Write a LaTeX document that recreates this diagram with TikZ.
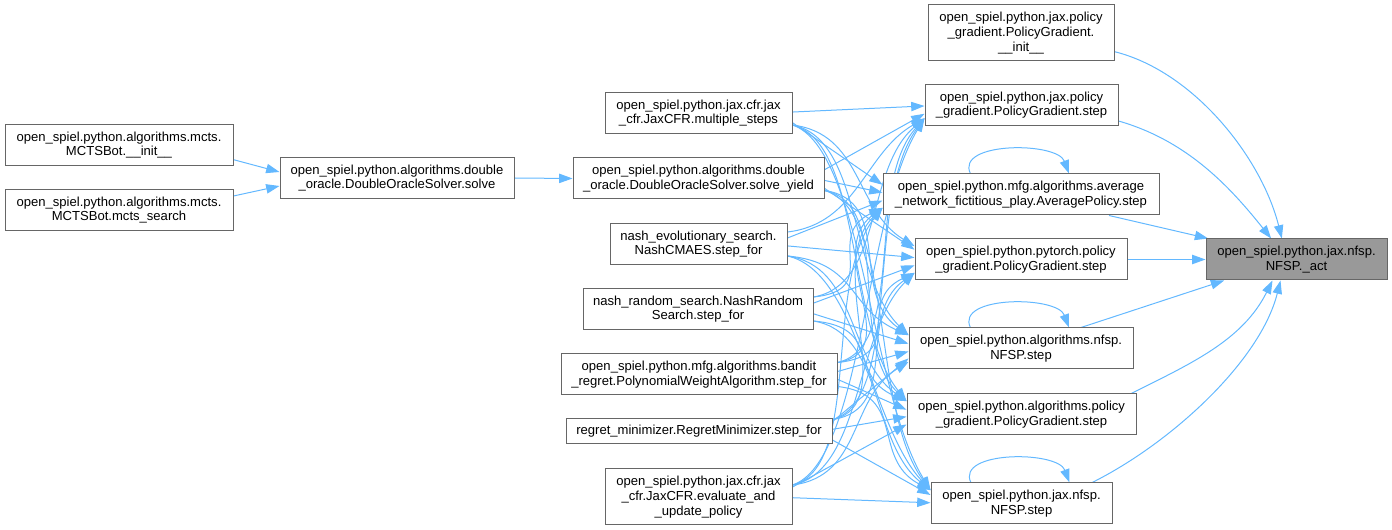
\documentclass[tikz,border=0pt]{standalone}
\usepackage{fontspec}
\setmainfont{Liberation Sans}
\usetikzlibrary{arrows.meta}
\definecolor{edgeblue}{HTML}{63B8FF}
\definecolor{boxgray}{HTML}{666666}
\definecolor{actgray}{HTML}{999999}
\pgfdeclarelayer{bg}
\pgfsetlayers{bg,main}

\begin{document}
\begin{tikzpicture}[x=0.75pt,y=-0.75pt,>={Triangle[length=10pt,width=7pt]},
    fn/.style={draw=boxgray,fill=white,line width=0.75pt,rectangle,align=center,inner sep=1pt,
      font=\fontsize{9.8}{11}\selectfont},
    one/.style={minimum height=18.75pt},
    two/.style={minimum height=30.75pt},
    three/.style={minimum height=42pt},
    call/.style={draw=edgeblue,line width=0.75pt,->}]
  \useasboundingbox (0,0) rectangle (1392,530);
  % callers of the solver
  \node [fn,two,minimum width=171pt] (mctsinit) at (119,145) {open\_spiel.python.algorithms.mcts.\\MCTSBot.\_\_init\_\_};
  \node [fn,two,minimum width=171pt] (mctssearch) at (119,210) {open\_spiel.python.algorithms.mcts.\\MCTSBot.mcts\_search};
  \node [fn,two,minimum width=175.5pt] (solve) at (397,178) {open\_spiel.python.algorithms.double\\\_oracle.DoubleOracleSolver.solve};
  % step_for and friends
  \node [fn,two,minimum width=140.25pt] (multisteps) at (698.5,113) {open\_spiel.python.jax.cfr.jax\\\_cfr.JaxCFR.multiple\_steps};
  \node [fn,two,minimum width=188.25pt] (solveyield) at (698.5,178.5) {open\_spiel.python.algorithms.double\\\_oracle.DoubleOracleSolver.solve\_yield};
  \node [fn,two,minimum width=132.75pt] (cmaes) at (698.5,244) {nash\_evolutionary\_search.\\NashCMAES.step\_for};
  \node [fn,two,minimum width=172.5pt] (randsearch) at (698,309) {nash\_random\_search.NashRandom\\Search.step\_for};
  \node [fn,two,minimum width=207pt] (polyweight) at (699,374.5) {open\_spiel.python.mfg.algorithms.bandit\\\_regret.PolynomialWeightAlgorithm.step\_for};
  \node [fn,one,minimum width=199.5pt] (regretmin) at (699,431.5) {regret\_minimizer.RegretMinimizer.step\_for};
  \node [fn,three,minimum width=140.25pt] (evalupdate) at (698.5,497) {open\_spiel.python.jax.cfr.jax\\\_cfr.JaxCFR.evaluate\_and\\\_update\_policy};
  % step functions
  \node [fn,three,minimum width=139.5pt] (jaxpginit) at (1021,33) {open\_spiel.python.jax.policy\\\_gradient.PolicyGradient.\\\_\_init\_\_};
  \node [fn,two,minimum width=144.75pt] (jaxpgstep) at (1021.5,105) {open\_spiel.python.jax.policy\\\_gradient.PolicyGradient.step};
  \node [fn,two,minimum width=207pt] (avgpolicy) at (1021,194.5) {open\_spiel.python.mfg.algorithms.average\\\_network\_fictitious\_play.AveragePolicy.step};
  \node [fn,two,minimum width=159pt] (torchpg) at (1021,259.5) {open\_spiel.python.pytorch.policy\\\_gradient.PolicyGradient.step};
  \node [fn,two,minimum width=168pt] (algnfsp) at (1021,348.5) {open\_spiel.python.algorithms.nfsp.\\NFSP.step};
  \node [fn,two,minimum width=171.75pt] (algpg) at (1021.5,414.5) {open\_spiel.python.algorithms.policy\\\_gradient.PolicyGradient.step};
  \node [fn,two,minimum width=135.75pt] (jaxnfsp) at (1021.5,503.5) {open\_spiel.python.jax.nfsp.\\NFSP.step};
  \node [fn,two,minimum width=135.75pt,fill=actgray] (act) at (1296.5,259.5) {open\_spiel.python.jax.nfsp.\\NFSP.\_act};

  \begin{pgfonlayer}{bg}
  \draw [call] ([yshift=-11pt]mctsinit.east) -- ([yshift=4.5pt]solve.west);
  \draw [call] ([yshift=10.5pt]mctssearch.east) -- ([yshift=-6pt]solve.west);
  \draw [call] (solve.east) -- (solveyield.west);
  % every step_for calls every step
  \foreach \s/\sy in {multisteps/113,solveyield/178,cmaes/244,randsearch/309,polyweight/374,regretmin/432,evalupdate/497}{
    \foreach \t/\ty in {jaxpgstep/105,avgpolicy/194,torchpg/260,algnfsp/349,algpg/414,jaxnfsp/503}{
      \pgfmathsetmacro\dy{\ty-\sy}
      \pgfmathtruncatemacro\far{abs(\dy)>100}
      \ifnum\far=0
        \draw [call] ([yshift={-0.09*\dy*1pt}]\s.east) -- ([yshift={0.09*\dy*1pt}]\t.west);
      \else
        \pgfmathsetmacro\sg{sign(\dy)}
        \draw [call] ([yshift={-9pt*\sg}]\s.east) .. controls +(70,{0.06*\dy}) and +(-60,{-0.25*\dy}) .. ([yshift={10pt*\sg}]\t.west);
      \fi
    }
  }
  % self calls
  \draw [call] ([xshift=-38pt]avgpolicy.north) .. controls +(-15,-32) and +(-12,-32) .. ([xshift=36pt]avgpolicy.north);
  \draw [call] ([xshift=-38pt]algnfsp.north) .. controls +(-15,-32) and +(-12,-32) .. ([xshift=36pt]algnfsp.north);
  \draw [call] ([xshift=-38pt]jaxnfsp.north) .. controls +(-15,-32) and +(-12,-32) .. ([xshift=36pt]jaxnfsp.north);
  % into _act
  \draw [call] ([yshift=-14pt]jaxpginit.east) .. controls +(80,20) and +(-20,-80) .. ([xshift=-11pt]act.north);
  \draw [call] ([yshift=-12pt]jaxpgstep.east) .. controls +(70,20) and +(-40,-50) .. ([xshift=-19pt]act.north);
  \draw [call] ([xshift=66pt]avgpolicy.south) -- ([xshift=2pt]act.north west);
  \draw [call] (torchpg.east) -- (act.west);
  \draw [call] ([xshift=45pt]algnfsp.north) -- ([xshift=14pt]act.south west);
  \draw [call] ([xshift=-4pt]algpg.north east) .. controls +(60,-30) and +(-30,60) .. ([xshift=-18pt]act.south);
  \draw [call] ([xshift=53pt]jaxnfsp.north) .. controls +(80,-40) and +(-20,80) .. ([xshift=-12pt]act.south);
  \end{pgfonlayer}
\end{tikzpicture}
\end{document}
